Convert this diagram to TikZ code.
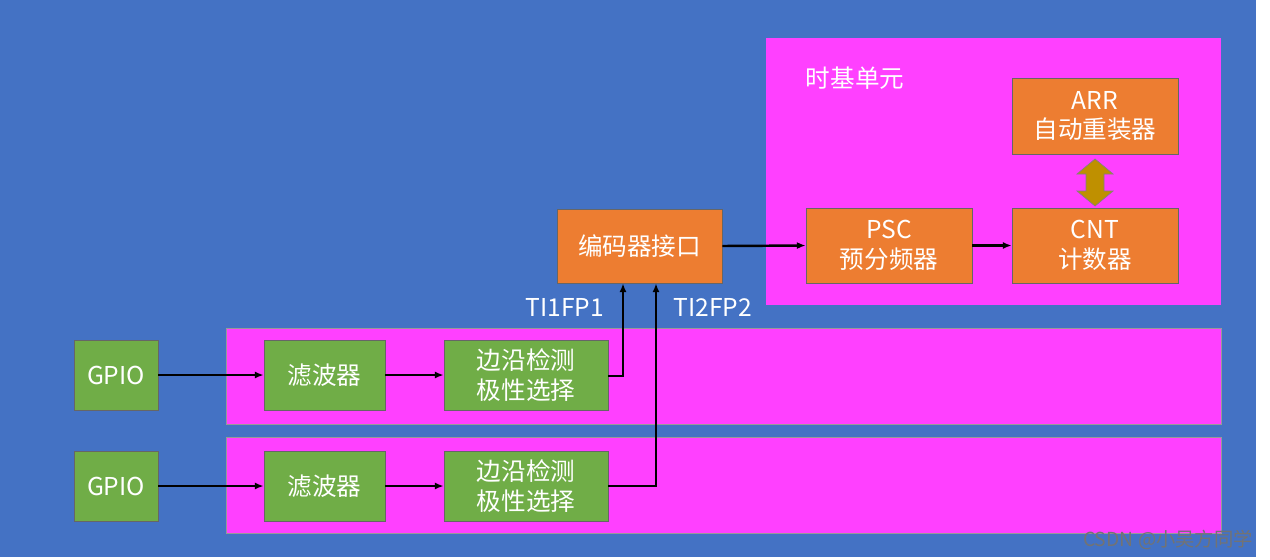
\documentclass[tikz,border=0pt]{standalone}
\usepackage{fontspec}
\setmainfont{Noto Sans CJK SC}
\usetikzlibrary{arrows.meta}
\definecolor{bg}{HTML}{4472C4}
\definecolor{mag}{HTML}{FF40FF}
\definecolor{grn}{HTML}{70AD47}
\definecolor{org}{HTML}{ED7D31}
\definecolor{gold}{HTML}{BF9000}
\begin{document}
\begin{tikzpicture}[x=0.02cm,y=-0.02cm,
 box/.style={draw=black!60,line width=0.4pt,text=white,align=center,font=\fontsize{14}{17}\selectfont,inner sep=0pt},
 g/.style={box,fill=grn},
 o/.style={box,fill=org},
 lbl/.style={text=white,font=\fontsize{14}{17}\selectfont},
 ar/.style={-{Latex[length=5pt,width=4pt]},line width=1.4pt,black}]
\useasboundingbox (0,0) rectangle (1270,559);
\fill[white] (0,0) rectangle (1270,559);
\fill[bg] (0,0) rectangle (1256,557);
\fill[mag] (766,38) rectangle (1221,305);
\fill[mag,draw=black!40] (226,328) rectangle (1221,424);
\fill[mag,draw=black!40] (226,437) rectangle (1221,533);
\node[lbl] (tb) at (855,78) {时基单元};
\node[g,minimum width=1.68cm,minimum height=1.4cm] (gp1) at (116,375) {GPIO};
\node[g,minimum width=2.42cm,minimum height=1.4cm] (f1) at (324.5,375) {滤波器};
\node[g,minimum width=3.28cm,minimum height=1.4cm] (e1) at (526,375) {边沿检测\\极性选择};
\node[g,minimum width=1.68cm,minimum height=1.4cm] (gp2) at (116,486) {GPIO};
\node[g,minimum width=2.42cm,minimum height=1.4cm] (f2) at (324.5,486) {滤波器};
\node[g,minimum width=3.28cm,minimum height=1.4cm] (e2) at (526,486) {边沿检测\\极性选择};
\node[o,minimum width=3.3cm,minimum height=1.48cm] (enc) at (639.5,246) {编码器接口};
\node[o,minimum width=3.32cm,minimum height=1.5cm] (psc) at (889,245.5) {PSC\\预分频器};
\node[o,minimum width=3.32cm,minimum height=1.5cm] (cnt) at (1095,245.5) {CNT\\计数器};
\node[o,minimum width=3.32cm,minimum height=1.52cm] (arr) at (1095,116) {ARR\\自动重装器};
\draw[ar] (gp1) -- (f1);
\draw[ar] (f1) -- (e1);
\draw[ar] (gp2) -- (f2);
\draw[ar] (f2) -- (e2);
\coordinate (c1) at (623,376);
\coordinate (c2) at (656,486);
\draw[ar] (e1.east |- c1) -- (c1) -- (enc.south -| c1);
\draw[ar] (e2.east |- c2) -- (c2) -- (enc.south -| c2);
\draw[ar] (enc.east) -- (psc.west);
\draw[ar] (psc) -- (cnt);
\node[lbl] (t1) at (565,307) {TI1FP1};
\node[lbl] (t2) at (713,307) {TI2FP2};
\draw[draw=black!50,fill=gold,line width=0.4pt]
 (1095,159) -- (1113,174) -- (1104,174) -- (1104,191) -- (1113,191) -- (1095,206)
 -- (1077,191) -- (1086,191) -- (1086,174) -- (1077,174) -- cycle;
\node[text=black!55,font=\fontsize{11}{13}\selectfont] (wm) at (1168,540) {CSDN @小吴方同学};
\end{tikzpicture}
\end{document}
